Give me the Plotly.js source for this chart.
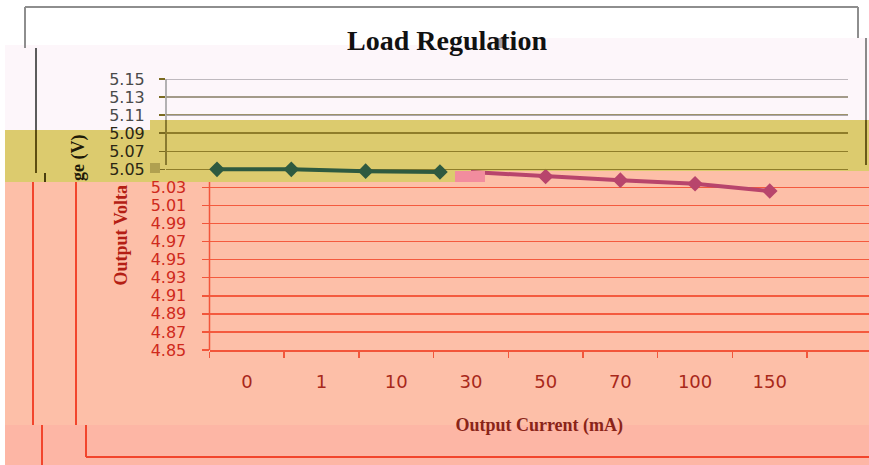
<!DOCTYPE html>
<html>
<head>
<meta charset="utf-8">
<script src="https://cdn.plot.ly/plotly-3.0.1.min.js"></script>
<style>html,body{margin:0;padding:0;background:#fff;}#chart{width:869px;height:465px;}</style>
</head>
<body>
<div id="chart"></div>
<script>
// ---- data ----
const currentCategories = ['0', '1', '10', '30', '50', '70', '100', '150'];
const outputVoltage = [5.050, 5.050, 5.048, 5.047, 5.042, 5.038, 5.034, 5.026];
const yTicksLower = [4.85, 4.87, 4.89, 4.91, 4.93, 4.95, 4.97, 4.99, 5.01, 5.03];
const yTicksMiddle = [5.05, 5.07, 5.09];
const yTicksUpper = [5.11, 5.13, 5.15];
const yTickLabelsLower = yTicksLower.map(v => v.toFixed(2));
const yTickLabelsMiddle = yTicksMiddle.map(v => v.toFixed(2));
const yTickLabelsUpper = yTicksUpper.map(v => v.toFixed(2));
// the y-axis title is torn in two by the picture's glitch bands
const yTitleLowerPart = 'Output Volta';
const yTitleUpperPart = 'ge (V)';

// ---- geometry helpers (pixel -> paper) ----
const L = 100, R = 0, T = 79, B = 115, FW = 869, FH = 465;
const W = FW - L - R, H = FH - T - B;
const fx = px => (px - L) / W;
const fy = py => (FH - B - py) / H;

const shapes = [];
function rect(x0, y0, x1, y1, color, layer) {
  shapes.push({type: 'rect', xref: 'paper', yref: 'paper', x0: fx(x0), x1: fx(x1), y0: fy(y1), y1: fy(y0),
    fillcolor: color, line: {width: 0}, layer: layer || 'below'});
}
function seg(x0, y0, x1, y1, color, width, layer) {
  shapes.push({type: 'line', xref: 'paper', yref: 'paper', x0: fx(x0), x1: fx(x1), y0: fy(y0), y1: fy(y1),
    line: {color: color, width: width || 2}, layer: layer || 'below'});
}

// background bands
rect(5, 45, 869, 130, '#fdf6fa');
rect(470, 38, 869, 130, '#fdf6fa');
rect(5, 130, 150, 182, '#dccb6e');
rect(150, 120, 485, 182, '#dccb6e');
rect(485, 120, 869, 171, '#dccb6e');
rect(5, 182, 485, 425, '#fdbfa8');
rect(485, 171, 869, 425, '#fdbfa8');
rect(5, 425, 869, 465, '#fdb6a5');
// frame lines
seg(25, 7, 858, 7, '#8e8e8e', 2);
seg(25, 7, 25, 48, '#8e8e8e', 2);
seg(858, 7, 858, 38, '#8e8e8e', 2);
seg(36, 48, 36, 130, '#5c5c5c', 2);
seg(36, 130, 36, 173, '#5e4e10', 2);
seg(45, 173, 45, 182, '#4a3e10', 2);
seg(866, 38, 866, 120, '#8a8a8a', 2);
seg(866, 120, 866, 165, '#6a5a18', 2);
seg(33, 182, 33, 425, '#f2452c', 2);
seg(76, 182, 76, 425, '#f2452c', 2);
seg(42, 425, 42, 465, '#f2452c', 2);
seg(86, 425, 86, 457, '#f2452c', 2);
seg(86, 457, 869, 457, '#f2452c', 2);
// axis line segments
seg(166, 79, 166, 120, '#9a9a9a', 1.5);
seg(166, 120, 166, 165, '#6e5f1c', 1.5);
seg(209.5, 182, 209.5, 350, '#f2553a', 1.5);
// gray gridlines of the upper (white) band, drawn through the y3 scale
yTicksUpper.forEach(v => shapes.push({type: 'line', xref: 'x2 domain', yref: 'y3', x0: 0, x1: 1, y0: v, y1: v,
  line: {color: '#aaa5aa', width: 1.5}, layer: 'above'}));
// small glitch blocks
rect(455, 171, 485, 182, '#f28c9e', 'above');
rect(150, 163, 160, 173, '#b0a050', 'above');
rect(497, 38, 503, 48, '#a8a0a8', 'above');

const pink = '#b8456c', green = '#2e5a40';
const traces = [
  {
    x: currentCategories.slice(3), y: outputVoltage.slice(3), xaxis: 'x', yaxis: 'y',
    mode: 'lines+markers', line: {color: pink, width: 4},
    marker: {symbol: 'diamond', size: [0, 12, 12, 12, 12], color: pink, opacity: 1, line: {width: 0}}
  },
  {
    x: currentCategories.slice(0, 4), y: outputVoltage.slice(0, 4), xaxis: 'x2', yaxis: 'y3',
    mode: 'lines+markers', line: {color: green, width: 4},
    marker: {symbol: 'diamond', size: 12, color: green, line: {width: 0}}
  }
];

const upperVals = yTicksMiddle.concat(yTicksUpper);
const upperText = yTickLabelsMiddle.map(t => '<span style="color:#2a2614">' + t + '</span>')
  .concat(yTickLabelsUpper.map(t => '<span style="color:#4a4a4a">' + t + '</span>'));

const layout = {
  width: FW, height: FH,
  margin: {l: L, r: R, t: T, b: B, pad: 0},
  paper_bgcolor: '#ffffff', plot_bgcolor: 'rgba(0,0,0,0)',
  showlegend: false, hovermode: false,
  title: {text: '<b>Load Regulation</b>', x: 447 / FW, xanchor: 'center', y: 1 - 40 / FH, yanchor: 'middle',
    font: {family: 'Liberation Serif', size: 28, color: '#111111'}},
  xaxis: {
    domain: [fx(209.5), 1], anchor: 'y', type: 'category', categoryorder: 'array', categoryarray: currentCategories,
    range: [-0.5, -0.5 + 659.5 / 74.7], tickson: 'boundaries', ticks: 'outside', ticklen: 6, tickcolor: '#f2553a', tickwidth: 1.5,
    showline: true, linecolor: '#f2553a', linewidth: 1.5, showgrid: false, zeroline: false,
    tickfont: {family: 'DejaVu Sans', size: 18, color: '#a8281a'}, ticklabelstandoff: 15,
    title: {text: '<b>Output Current (mA)</b>', font: {family: 'Liberation Serif', size: 18, color: '#8a2418'}, standoff: 27}
  },
  yaxis: {
    domain: [0, 1], anchor: 'x', range: [4.85, 5.15], tickmode: 'array', tickvals: yTicksLower, ticktext: yTickLabelsLower,
    ticks: 'outside', ticklen: 7, tickcolor: '#f2553a', tickwidth: 1.5, showline: false, zeroline: false,
    showgrid: true, gridcolor: '#f45a3e', gridwidth: 1.5,
    tickfont: {family: 'DejaVu Sans', size: 16, color: '#cf2a1c'}, ticklabelstandoff: 12
  },
  xaxis2: {
    domain: [fx(166), fx(848)], anchor: 'y3', type: 'category', categoryorder: 'array', categoryarray: currentCategories.slice(0, 4),
    range: [-0.686, 8.49], showticklabels: false, ticks: '', showline: false, showgrid: false, zeroline: false
  },
  yaxis3: {
    domain: [0, 1], anchor: 'x2', range: [4.85, 5.15], tickmode: 'array', tickvals: upperVals, ticktext: upperText,
    ticks: 'outside', ticklen: 6, tickcolor: '#7a6a20', tickwidth: 1.5, showline: false, zeroline: false,
    showgrid: true, gridcolor: '#8f7d2a', gridwidth: 1.5,
    tickfont: {family: 'DejaVu Sans', size: 16, color: '#2a2614'}, ticklabelstandoff: 11
  },
  annotations: [
    {text: '<b>' + yTitleLowerPart + '</b>', textangle: -90, xref: 'paper', yref: 'paper',
      x: fx(120), y: fy(288), xanchor: 'center', yanchor: 'bottom', showarrow: false,
      font: {family: 'Liberation Serif', size: 18, color: '#b41e14'}},
    {text: '<b>' + yTitleUpperPart + '</b>', textangle: -90, xref: 'paper', yref: 'paper',
      x: fx(78), y: fy(183), xanchor: 'center', yanchor: 'bottom', showarrow: false,
      font: {family: 'Liberation Serif', size: 18, color: '#1e1a08'}}
  ],
  shapes: shapes
};

Plotly.newPlot('chart', traces, layout, {staticPlot: true, displayModeBar: false});
</script>
</body>
</html>
